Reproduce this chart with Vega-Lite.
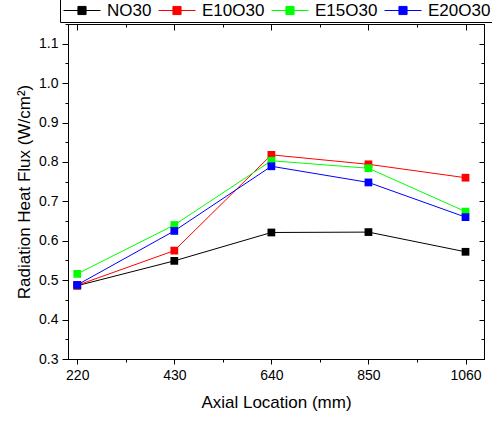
{
  "$schema": "https://vega.github.io/schema/vega-lite/v6.json",
  "width": 416,
  "height": 335,
  "autosize": {"type": "none"},
  "padding": {"left": 68, "top": 24, "right": 8, "bottom": 62},
  "background": "white",
  "config": {
    "font": "Liberation Sans",
    "view": {"stroke": "black", "strokeWidth": 1},
    "axis": {
      "grid": false,
      "domainColor": "black",
      "tickColor": "black",
      "labelColor": "black",
      "titleColor": "black",
      "labelFont": "Liberation Sans",
      "titleFont": "Liberation Sans",
      "labelFontSize": 14,
      "titleFontSize": 17,
      "titleFontWeight": "normal"
    }
  },
  "data": {
    "values": [
      {"series": "NO30", "loc": 220, "flux": 0.486},
      {"series": "NO30", "loc": 430, "flux": 0.549},
      {"series": "NO30", "loc": 640, "flux": 0.621},
      {"series": "NO30", "loc": 850, "flux": 0.622},
      {"series": "NO30", "loc": 1060, "flux": 0.572},
      {"series": "E10O30", "loc": 220, "flux": 0.487},
      {"series": "E10O30", "loc": 430, "flux": 0.575},
      {"series": "E10O30", "loc": 640, "flux": 0.818},
      {"series": "E10O30", "loc": 850, "flux": 0.794},
      {"series": "E10O30", "loc": 1060, "flux": 0.760},
      {"series": "E15O30", "loc": 220, "flux": 0.516},
      {"series": "E15O30", "loc": 430, "flux": 0.640},
      {"series": "E15O30", "loc": 640, "flux": 0.803},
      {"series": "E15O30", "loc": 850, "flux": 0.784},
      {"series": "E15O30", "loc": 1060, "flux": 0.674},
      {"series": "E20O30", "loc": 220, "flux": 0.488},
      {"series": "E20O30", "loc": 430, "flux": 0.625},
      {"series": "E20O30", "loc": 640, "flux": 0.789},
      {"series": "E20O30", "loc": 850, "flux": 0.748},
      {"series": "E20O30", "loc": 1060, "flux": 0.660}
    ]
  },
  "encoding": {
    "color": {
      "field": "series",
      "type": "nominal",
      "sort": ["NO30", "E10O30", "E15O30", "E20O30"],
      "scale": {
        "domain": ["NO30", "E10O30", "E15O30", "E20O30"],
        "range": ["#000000", "#ff0000", "#00ff00", "#0000ff"]
      },
      "legend": {
        "title": null,
        "orient": "none",
        "direction": "horizontal",
        "legendX": -8,
        "legendY": -25,
        "fillColor": "white",
        "strokeColor": "black",
        "padding": 3,
        "gridAlign": "none",
        "clipHeight": 17,
        "symbolType": "M-1,0H1M-0.22,-0.22H0.22V0.22H-0.22Z",
        "symbolSize": 1369,
        "symbolStrokeWidth": 1,
        "labelFont": "Liberation Sans",
        "labelFontSize": 17,
        "labelColor": "black",
        "labelOffset": 6,
        "columnPadding": 6,
        "encode": {
          "symbols": {
            "update": {
              "fill": {"field": "value", "scale": "color"},
              "stroke": {"field": "value", "scale": "color"},
              "size": {"value": 1369},
              "opacity": {"value": 1}
            }
          }
        }
      }
    }
  },
  "layer": [
    {
      "mark": {"type": "line", "strokeWidth": 1},
      "encoding": {
        "x": {
          "field": "loc",
          "type": "quantitative",
          "scale": {"domain": [200, 1100], "nice": false, "zero": false},
          "axis": {
            "orient": "bottom",
            "title": "Axial Location (mm)",
            "values": [220, 325, 430, 535, 640, 745, 850, 955, 1060],
            "tickSize": {"condition": {"test": "(datum.value - 220) % 210 == 0", "value": 5}, "value": 3},
            "labelExpr": "(datum.value - 220) % 210 == 0 ? datum.label : ''",
            "format": "d",
            "labelPadding": 4,
            "titlePadding": 12,
            "labelFlush": false,
            "labelOverlap": false
          }
        },
        "y": {
          "field": "flux",
          "type": "quantitative",
          "scale": {"domain": [0.3, 1.15], "nice": false, "zero": false},
          "axis": {
            "orient": "left",
            "title": "Radiation Heat Flux (W/cm²)",
            "values": [0.3, 0.35, 0.4, 0.45, 0.5, 0.55, 0.6, 0.65, 0.7, 0.75, 0.8, 0.85, 0.9, 0.95, 1.0, 1.05, 1.1, 1.15],
            "tickSize": {"condition": {"test": "abs(datum.value*10 - round(datum.value*10)) < 0.001", "value": 6}, "value": 3},
            "labelExpr": "abs(datum.value*10 - round(datum.value*10)) < 0.001 ? format(datum.value, '.1f') : ''",
            "labelPadding": 4,
            "titlePadding": 5,
            "labelFlush": false,
            "labelOverlap": false
          }
        }
      }
    },
    {
      "mark": {"type": "point", "shape": "square", "filled": true, "size": 60, "opacity": 1},
      "encoding": {
        "x": {
          "field": "loc",
          "type": "quantitative",
          "scale": {"domain": [200, 1100], "nice": false, "zero": false},
          "axis": {
            "orient": "top",
            "title": null,
            "labels": false,
            "values": [220, 325, 430, 535, 640, 745, 850, 955, 1060],
            "tickSize": {"condition": {"test": "(datum.value - 220) % 210 == 0", "value": -6}, "value": -3}
          }
        },
        "y": {
          "field": "flux",
          "type": "quantitative",
          "scale": {"domain": [0.3, 1.15], "nice": false, "zero": false},
          "axis": {
            "orient": "right",
            "title": null,
            "labels": false,
            "values": [0.3, 0.35, 0.4, 0.45, 0.5, 0.55, 0.6, 0.65, 0.7, 0.75, 0.8, 0.85, 0.9, 0.95, 1.0, 1.05, 1.1, 1.15],
            "tickSize": {"condition": {"test": "abs(datum.value*10 - round(datum.value*10)) < 0.001", "value": -5}, "value": -3}
          }
        }
      }
    }
  ],
  "resolve": {"axis": {"x": "independent", "y": "independent"}}
}
